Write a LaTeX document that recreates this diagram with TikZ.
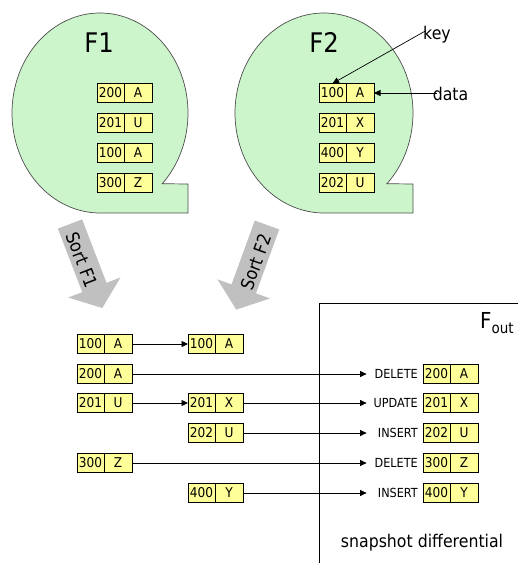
\documentclass[tikz,border=0pt]{standalone}
\usepackage{fontspec}
\setmainfont{DejaVu Sans}[FakeStretch=0.9]
\usepackage{xcolor}
\definecolor{Blob}{HTML}{CCF5CC}
\definecolor{Cell}{HTML}{FFFF99}
\definecolor{SortGray}{HTML}{C0C0C0}
\usetikzlibrary{arrows.meta,positioning}

\begin{document}
\begin{tikzpicture}[x=1pt,y=-1pt,
    >={Triangle[length=6.5pt,width=6pt]},
    blob/.style={draw=black!70,fill=Blob,line width=0.7pt},
    kcell/.style={draw,fill=Cell,line width=0.7pt,minimum width=27pt,
                  minimum height=19pt,inner sep=0pt,outer sep=0pt,
                  font=\fontsize{13.5}{13.5}\selectfont},
    dcell/.style={kcell,minimum width=28pt},
    op/.style={text width=50pt,align=right,inner sep=1pt,
               font=\fontsize{12.5}{12.5}\selectfont},
    sortarrow/.style={fill=SortGray},
    sorttext/.style={font=\fontsize{18}{18}\selectfont,inner sep=0pt},
    big/.style={font=\fontsize{27}{27}\selectfont},
    note/.style={font=\fontsize{17.5}{17.5}\selectfont},
    conn/.style={->,line width=0.7pt},
  ]
  \useasboundingbox (0,0) rectangle (518,563);

  % ---------- F1 and F2: tape-like blobs ----------
  \draw[blob] (100,113) ++(-45:88pt and 100pt)
      arc[start angle=-45,end angle=270,x radius=88pt,y radius=100pt]
      -| (188,184) -- cycle;
  \draw[blob] (324,113) ++(-45:89pt and 100pt)
      arc[start angle=-45,end angle=270,x radius=89pt,y radius=100pt]
      -| (413,184) -- cycle;
  \node[big] (f1) at (99,42.5) {F1};
  \node[big] (f2) at (324,42.5) {F2};

  \foreach \i/\k/\d in {0/200/A,1/201/U,2/100/A,3/300/Z}{
    \node[kcell] (fa\i) at (110.5,93+30*\i) {\k};
    \node[dcell,right=0pt of fa\i] (fb\i) {\d};
  }
  \foreach \i/\k/\d in {0/100/A,1/201/X,2/400/Y,3/202/U}{
    \node[kcell] (ga\i) at (332.5,93+30*\i) {\k};
    \node[dcell,right=0pt of ga\i] (gb\i) {\d};
  }

  % key / data callouts
  \node[note,anchor=base] (keylbl) at (437,39) {key};
  \node[note,anchor=base] (datalbl) at (450.5,100) {data};
  \draw[conn,shorten <=-7pt] (keylbl.west) -- (ga0.north);
  \draw[conn,shorten <=-8pt] (datalbl.west |- gb0.east) -- (gb0.east);

  % ---------- sort arrows ----------
  \begin{scope}[shift={(70,224)},rotate=-69]
    \fill[sortarrow] (0,-13) -- (68,-13) -- (68,-28) -- (90,0)
                     -- (68,28) -- (68,13) -- (0,13) -- cycle;
  \end{scope}
  \begin{scope}[shift={(267,225)},rotate=-110]
    \fill[sortarrow] (0,-13) -- (68,-13) -- (68,-28) -- (90,0)
                     -- (68,28) -- (68,13) -- (0,13) -- cycle;
  \end{scope}
  \node[sorttext,rotate=-69] (sort1) at (82,260) {Sort F1};
  \node[sorttext,rotate=70] (sort2) at (256,262) {Sort F2};

  % ---------- sorted files ----------
  \foreach \k/\d/\y in {100/A/344,200/A/374,201/U/403,300/Z/463}{
    \node[kcell] (l\k) at (90.5,\y) {\k};
    \node[dcell,right=0pt of l\k] (l\k-d) {\d};
  }
  \foreach \k/\d/\y in {100/A/344,201/X/403,202/U/433,400/Y/493}{
    \node[kcell] (m\k) at (201.5,\y) {\k};
    \node[dcell,right=0pt of m\k] (m\k-d) {\d};
  }

  % ---------- F_out ----------
  \draw[line width=0.8pt] (319,563) |- (518,303);
  \node[anchor=base west,inner sep=0pt] (fout) at (480,328)
      {\fontsize{22}{22}\selectfont F\raisebox{-5pt}{\fontsize{15}{15}\selectfont out}};
  \foreach \o/\k/\d/\y in {DELETE/200/A/374,UPDATE/201/X/403,INSERT/202/U/433,
                           DELETE/300/Z/463,INSERT/400/Y/493}{
    \node[kcell] (o\k) at (436.5,\y) {\k};
    \node[dcell,right=0pt of o\k] (o\k-d) {\d};
    \node[op,left=4pt of o\k] (op\k) {\o};
  }
  \node[note] (snap) at (422,543) {snapshot differential};

  % connectors
  \draw[conn] (l100-d.east) -- (m100.west);
  \draw[conn] (l200-d.east) -- (op200.west);
  \draw[conn] (l201-d.east) -- (m201.west);
  \draw[conn] (m201-d.east) -- (op201.west);
  \draw[conn] (m202-d.east) -- (op202.west);
  \draw[conn] (l300-d.east) -- (op300.west);
  \draw[conn] (m400-d.east) -- (op400.west);
\end{tikzpicture}
\end{document}
